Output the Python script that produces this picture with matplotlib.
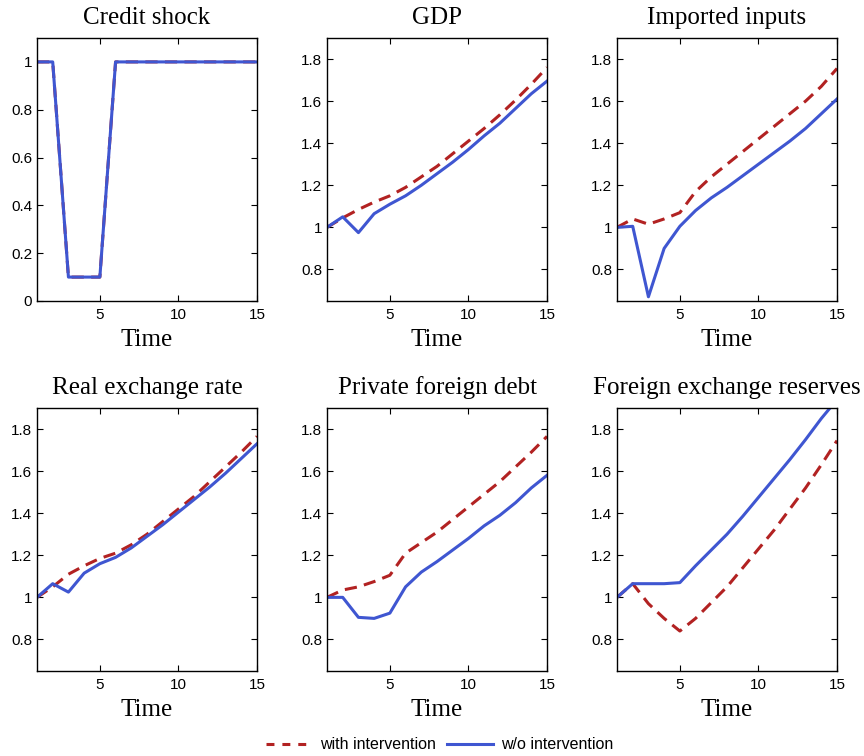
import matplotlib.pyplot as plt
from matplotlib.lines import Line2D

time = list(range(1, 16))

titles = ["Credit shock", "GDP", "Imported inputs",
          "Real exchange rate", "Private foreign debt", "Foreign exchange reserves"]

# with intervention
with_int = [
    [1, 1, 0.1, 0.1, 0.1, 1, 1, 1, 1, 1, 1, 1, 1, 1, 1],
    [1.0, 1.045, 1.085, 1.12, 1.15, 1.19, 1.24, 1.29, 1.35, 1.41, 1.47, 1.535, 1.605, 1.68, 1.76],
    [1.0, 1.04, 1.015, 1.04, 1.07, 1.17, 1.24, 1.3, 1.36, 1.42, 1.48, 1.54, 1.6, 1.67, 1.755],
    [1.0, 1.05, 1.11, 1.15, 1.185, 1.21, 1.25, 1.3, 1.36, 1.42, 1.48, 1.55, 1.62, 1.69, 1.765],
    [1.0, 1.035, 1.05, 1.075, 1.105, 1.21, 1.26, 1.31, 1.37, 1.43, 1.49, 1.55, 1.62, 1.69, 1.765],
    [1.0, 1.065, 0.97, 0.9, 0.84, 0.9, 0.975, 1.05, 1.14, 1.23, 1.32, 1.42, 1.52, 1.63, 1.745],
]
# without intervention
wo_int = [
    [1, 1, 0.1, 0.1, 0.1, 1, 1, 1, 1, 1, 1, 1, 1, 1, 1],
    [1.0, 1.05, 0.975, 1.065, 1.11, 1.15, 1.2, 1.255, 1.31, 1.37, 1.435, 1.495, 1.565, 1.635, 1.695],
    [1.0, 1.005, 0.67, 0.9, 1.005, 1.08, 1.14, 1.19, 1.245, 1.3, 1.355, 1.41, 1.47, 1.54, 1.61],
    [1.0, 1.065, 1.025, 1.115, 1.16, 1.19, 1.235, 1.29, 1.345, 1.405, 1.465, 1.525, 1.59, 1.66, 1.73],
    [1.0, 1.0, 0.905, 0.9, 0.925, 1.05, 1.12, 1.17, 1.225, 1.28, 1.34, 1.39, 1.45, 1.52, 1.58],
    [1.0, 1.065, 1.065, 1.065, 1.07, 1.15, 1.225, 1.3, 1.385, 1.475, 1.565, 1.655, 1.75, 1.85, 1.94],
]

red = "#b22222"
blue = "#3f56d1"
dash = (0, (4, 2.4))

fig = plt.figure(figsize=(8.64, 7.56), dpi=100)
W, H = 864, 756
lefts = [37, 327, 617]
tops = [38, 408]
aw, ah = 220, 263

for i in range(6):
    r, c = divmod(i, 3)
    ax = fig.add_axes([lefts[c] / W, 1 - (tops[r] + ah) / H, aw / W, ah / H])
    ax.plot(time, with_int[i], color=red, lw=2.2, linestyle=dash)
    ax.plot(time, wo_int[i], color=blue, lw=2.2)
    ax.set_xlim(1, 15)
    ax.set_xticks([5, 10, 15])
    if i == 0:
        ax.set_ylim(0, 1.1)
        ax.set_yticks([0, 0.2, 0.4, 0.6, 0.8, 1])
        ax.set_yticklabels(["0", "0.2", "0.4", "0.6", "0.8", "1"])
    else:
        ax.set_ylim(0.65, 1.9)
        ax.set_yticks([0.8, 1, 1.2, 1.4, 1.6, 1.8])
        ax.set_yticklabels(["0.8", "1", "1.2", "1.4", "1.6", "1.8"])
    ax.tick_params(direction="in", top=True, right=True, length=4,
                   labelsize=11, width=0.8)
    ax.tick_params(axis="x", pad=5)
    for lab in ax.get_xticklabels() + ax.get_yticklabels():
        lab.set_family("Liberation Sans")
    for s in ax.spines.values():
        s.set_linewidth(1.0)
    ax.set_title(titles[i], family="Liberation Serif", fontsize=18, pad=10)
    ax.set_xlabel("Time", family="Liberation Serif", fontsize=18, labelpad=5)

handles = [Line2D([], [], color=red, lw=2.2, linestyle=(0, (2.6, 2.6))),
           Line2D([], [], color=blue, lw=2.2)]
fig.legend(handles, ["with intervention", "w/o intervention"], loc="lower center",
           ncol=2, frameon=False, bbox_to_anchor=(0.509, -0.014),
           prop={"family": "Liberation Sans", "size": 11.5},
           handlelength=2.9, columnspacing=0.7, handletextpad=0.5)

fig.savefig("out.png", dpi=100)
